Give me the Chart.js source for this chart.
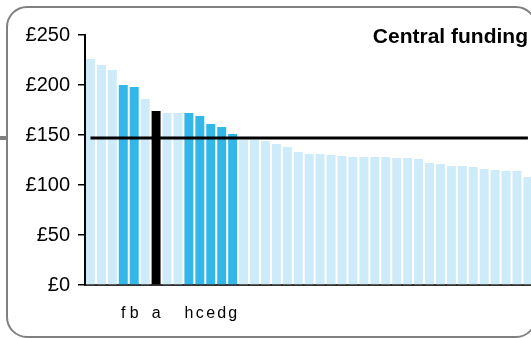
<!DOCTYPE html>
<html>
<head>
<meta charset="utf-8">
<script src="https://cdn.jsdelivr.net/npm/chart.js@4/dist/chart.umd.min.js"></script>
<style>
    html, body { margin: 0; padding: 0; background: #fff; overflow: hidden; }
    body { width: 531px; height: 338px; }
    #chart { display: block; }
</style>
</head>
<body>
<!-- canvas is a little wider than the window so the last bar gets cut off like the original -->
<canvas id="chart" width="547" height="338"></canvas>
<script>
// Bar labels (only the highlighted ones carry a letter)
const categories = [
    '', '', '', 'f', 'b', '', 'a', '', '', 'h',
    'c', 'e', 'd', 'g', '', '', '', '', '', '',
    '', '', '', '', '', '', '', '', '', '',
    '', '', '', '', '', '', '', '', '', '',
    ''
];

// Central funding per bar, £
const funding = [
    226, 220, 215, 200, 198, 186, 174, 172, 172, 172,
    169, 161, 158, 151, 145, 145, 144, 141, 138, 133,
    131, 131, 130, 129, 128, 128, 128, 128, 127, 127,
    126, 122, 121, 119, 119, 118, 116, 115, 114, 114,
    108
];

// 0 = other, 1 = comparison group, 2 = selected
const highlight = [
    0, 0, 0, 1, 1, 0, 2, 0, 0, 1,
    1, 1, 1, 1, 0, 0, 0, 0, 0, 0,
    0, 0, 0, 0, 0, 0, 0, 0, 0, 0,
    0, 0, 0, 0, 0, 0, 0, 0, 0, 0,
    0
];

const average = 147;
const yTicks = { min: 0, max: 250, step: 50 };

const palette = ['#cdebf8', '#33b7e8', '#000000'];
const fontFamily = '"Liberation Sans", Arial, sans-serif';

// Rounded frame + title drawn straight on the canvas
const framePlugin = {
    id: 'frame',
    beforeDraw(chart) {
        const ctx = chart.ctx;
        ctx.save();
        ctx.strokeStyle = '#808080';
        ctx.lineWidth = 2;
        ctx.beginPath();
        ctx.roundRect(7, 7, 529, 330, 20);
        ctx.stroke();
        // little grey stub sticking out on the left
        ctx.fillStyle = '#808080';
        ctx.fillRect(0, 136, 7, 4);
        ctx.restore();
    },
    afterDraw(chart) {
        const ctx = chart.ctx;
        ctx.save();
        ctx.fillStyle = '#000';
        ctx.font = 'bold 21px ' + fontFamily;
        ctx.textAlign = 'right';
        ctx.textBaseline = 'alphabetic';
        ctx.fillText('Central funding', 528, 43);
        ctx.restore();
    }
};

Chart.defaults.font.family = fontFamily;

new Chart(document.getElementById('chart'), {
    type: 'bar',
    data: {
        labels: categories,
        datasets: [
            {
                type: 'line',
                data: categories.map(() => average),
                borderColor: '#000',
                borderWidth: 3,
                pointRadius: 0,
                order: 0
            },
            {
                data: funding,
                backgroundColor: highlight.map(h => palette[h]),
                barPercentage: 0.82,
                categoryPercentage: 1,
                order: 1
            }
        ]
    },
    options: {
        responsive: false,
        animation: false,
        devicePixelRatio: 1,
        layout: {
            padding: { top: 35, right: 6.4, left: 0, bottom: 0 }
        },
        plugins: {
            legend: { display: false },
            tooltip: { enabled: false }
        },
        scales: {
            x: {
                grid: { display: false, drawTicks: false },
                border: { color: '#333', width: 2 },
                ticks: {
                    autoSkip: false,
                    maxRotation: 0,
                    padding: 19,
                    color: '#000',
                    font: { size: 16 }
                },
                afterFit: scale => { scale.height = 53; }
            },
            y: {
                min: yTicks.min,
                max: yTicks.max,
                ticks: {
                    stepSize: yTicks.step,
                    padding: 8,
                    color: '#000',
                    font: { size: 20 },
                    callback: value => '£' + value
                },
                grid: {
                    drawOnChartArea: false,
                    tickLength: 7,
                    color: '#000',
                    lineWidth: 1.5
                },
                border: { color: '#000', width: 2 },
                afterFit: scale => { scale.width = 85; }
            }
        }
    },
    plugins: [framePlugin]
});
</script>
</body>
</html>
